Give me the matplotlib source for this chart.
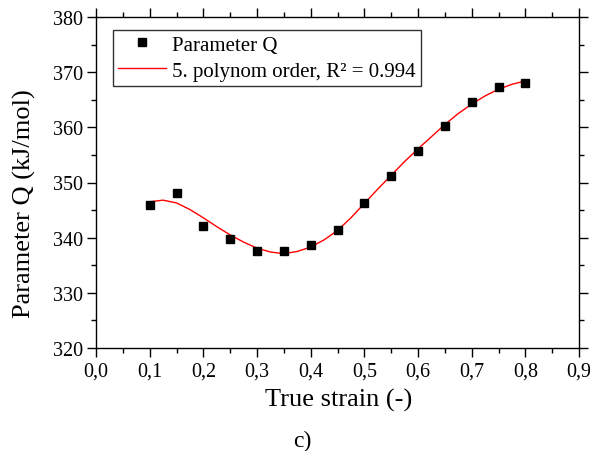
import matplotlib
matplotlib.use("Agg")
import matplotlib.pyplot as plt
from matplotlib.ticker import MultipleLocator, FixedLocator, FixedFormatter

plt.rcParams['font.family'] = ['Liberation Serif', 'DejaVu Serif']

# Measured data points
strain = [0.10, 0.15, 0.20, 0.25, 0.30, 0.35, 0.40, 0.45, 0.50, 0.55,
          0.60, 0.65, 0.70, 0.75, 0.80]
q_values = [345.9, 348.1, 342.2, 339.8, 337.6, 337.5, 338.7, 341.4, 346.3,
            351.2, 355.8, 360.2, 364.6, 367.4, 368.1]

# Fitted curve
fit_x = [0.100, 0.125, 0.150, 0.175, 0.200, 0.225, 0.250, 0.275, 0.300,
         0.325, 0.350, 0.375, 0.400, 0.425, 0.450, 0.475, 0.500, 0.525,
         0.550, 0.575, 0.600, 0.625, 0.650, 0.675, 0.700, 0.725, 0.750,
         0.775, 0.800]
fit_y = [346.5, 346.8, 346.3, 345.1, 343.6, 342.0, 340.5, 339.2, 338.1,
         337.4, 337.1, 337.5, 338.3, 339.6, 341.3, 343.6, 346.2, 348.8,
         351.3, 353.8, 356.1, 358.3, 360.5, 362.5, 364.2, 365.7, 366.9,
         367.8, 368.4]

x_ticks = [0.0, 0.1, 0.2, 0.3, 0.4, 0.5, 0.6, 0.7, 0.8, 0.9]
x_tick_labels = ['0,0', '0,1', '0,2', '0,3', '0,4', '0,5', '0,6', '0,7', '0,8', '0,9']
y_ticks = [320, 330, 340, 350, 360, 370, 380]
y_tick_labels = ['320', '330', '340', '350', '360', '370', '380']

fig = plt.figure(figsize=(5.90, 4.52), dpi=100)
ax = fig.add_axes([96/590, (452-349)/452, 483/590, 331/452])

ax.plot(strain, q_values, linestyle='none', marker='s', markersize=5.2,
        color='black', label='Parameter Q', zorder=3)
ax.plot(fit_x, fit_y, color='red', linewidth=1.0,
        label='5. polynom order, R² = 0.994', zorder=2)

ax.set_xlim(0.0, 0.9)
ax.set_ylim(320, 380)
ax.xaxis.set_major_locator(FixedLocator(x_ticks))
ax.xaxis.set_major_formatter(FixedFormatter(x_tick_labels))
ax.xaxis.set_minor_locator(MultipleLocator(0.05))
ax.yaxis.set_major_locator(FixedLocator(y_ticks))
ax.yaxis.set_major_formatter(FixedFormatter(y_tick_labels))
ax.yaxis.set_minor_locator(MultipleLocator(5))

ax.tick_params(which='both', direction='out', top=True, right=True,
               labeltop=False, labelright=False, width=1.0, color='black')
ax.tick_params(which='major', length=6.5, labelsize=14.5, pad=3)
ax.tick_params(which='minor', length=3.5)
for s in ax.spines.values():
    s.set_linewidth(1.0)

ax.set_xlabel('True strain (-)', fontsize=19)
ax.set_ylabel('Parameter Q (kJ/mol)', fontsize=19)
ax.xaxis.set_label_coords(0.503, -0.12)
ax.yaxis.set_label_coords(-0.125, 0.44)

leg = ax.legend(loc='upper left', bbox_to_anchor=(0.035, 0.961),
                borderaxespad=0, fontsize=15, frameon=True, fancybox=False,
                edgecolor='black', handlelength=2.3, handletextpad=0.3,
                labelspacing=0.3, borderpad=0.25, numpoints=1)
leg.get_frame().set_linewidth(1.0)

fig.text(302/590, 1 - 441/452, 'c)', fontsize=17, ha='center', va='center')

fig.savefig('out.png', dpi=100)
